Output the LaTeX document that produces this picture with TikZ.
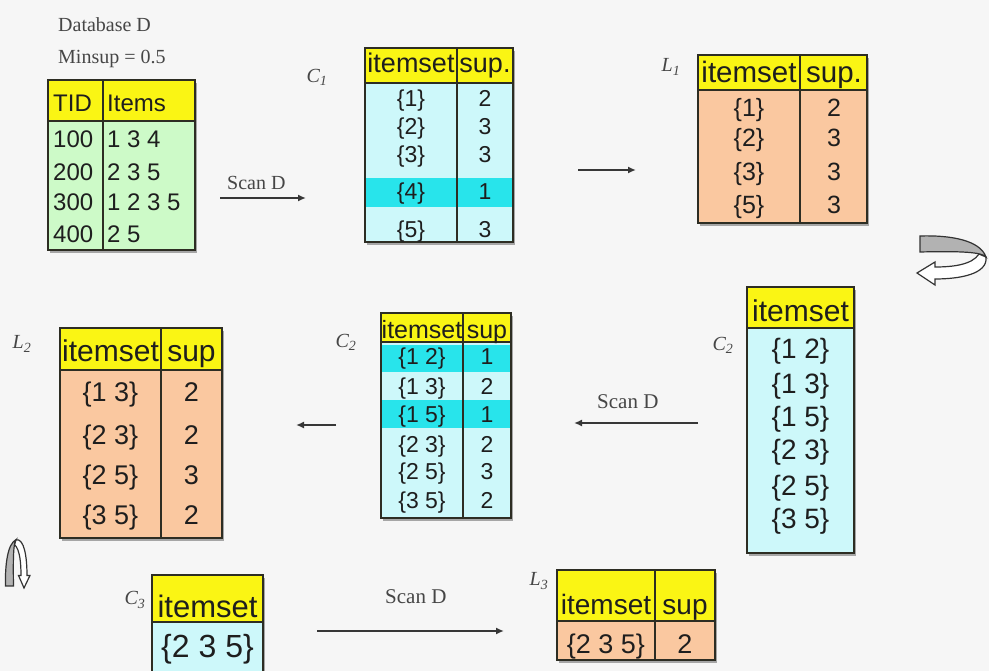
\documentclass[tikz,border=0pt]{standalone}
\usepackage{fontspec}
\setmainfont{Liberation Serif}
\newfontfamily\arial{Liberation Sans}
\usetikzlibrary{arrows.meta}
\newcommand\tsz[1]{\fontsize{#1}{#1}\selectfont}
\definecolor{bg}{RGB}{246,246,246}
\definecolor{hdr}{RGB}{250,245,20}
\definecolor{grn}{RGB}{205,250,200}
\definecolor{cyl}{RGB}{205,248,250}
\definecolor{cyh}{RGB}{40,228,235}
\definecolor{org}{RGB}{250,200,160}
\definecolor{bord}{RGB}{45,45,35}
\definecolor{txt}{RGB}{30,30,30}
\definecolor{arr}{RGB}{55,55,55}
\definecolor{lbl}{RGB}{70,70,70}
\tikzset{
  frame/.style={draw=bord, line width=1.4pt},
  sep/.style={draw=bord, line width=1.4pt},
  shad/.style={fill=black!35},
  cell/.style={inner sep=0pt, anchor=base, text=txt},
  lab/.style={inner sep=0pt, text=lbl, font=\tsz{20}\itshape},
  serif/.style={inner sep=0pt, text=lbl, anchor=base west, font=\tsz{20}},
  conn/.style={draw=arr, line width=1.6pt, -{Latex[length=8pt,width=7pt]}},
  loopar/.pic={
    \filldraw[fill=white, draw=black!80, line width=1.2pt]
      (69,-16) .. controls (71,1) and (43,6) .. (18,6) -- (18,12) -- (0,0)
      -- (18,-11) -- (18,-6) .. controls (35,-6) and (55,-8) .. (62,-19) -- cycle;
    \filldraw[fill=black!30, draw=black!80, line width=1.2pt]
      (3,-37) .. controls (33,-38) and (63,-33) .. (69,-16)
      .. controls (65,-21) and (43,-22) .. (3,-21) -- cycle;
  }
}
\begin{document}
\begin{tikzpicture}[x=1pt,y=-1pt]
\fill[bg] (0,0) rectangle (989,671);
\useasboundingbox (0,0) rectangle (989,671);

% ---------- Database ----------
\node[serif] (dbname) at (58,32) {Database D};
\node[serif] (minsup) at (58,64) {Minsup = 0.5};
\fill[shad] (50,83) rectangle (197,253);
\fill[grn] (48,121) rectangle (195,250);
\fill[hdr] (48,80) rectangle (195,121);
\draw[sep] (48,121) -- (195,121) (103,80) -- (103,250);
\draw[frame] (48,80) rectangle (195,250);
\begin{scope}[every node/.style={cell, anchor=base west, font=\arial\tsz{24}}]
\node (dbh1) at (53,112) {TID};
\node (dbh2) at (107,112) {Items};
\node (dbt1) at (53,148) {100}; \node (dbi1) at (107,148) {1 3 4};
\node (dbt2) at (53,181) {200}; \node (dbi2) at (107,181) {2 3 5};
\node (dbt3) at (53,211) {300}; \node (dbi3) at (107,211) {1 2 3 5};
\node (dbt4) at (53,243) {400}; \node (dbi4) at (107,243) {2 5};
\end{scope}

% ---------- Scan D (1) ----------
\coordinate (a1s) at (220,198);
\coordinate (a1e) at (306,198);
\draw[conn] (a1s) -- (a1e);
\node[serif] (scan1) at (227,190) {Scan D};

% ---------- C1 ----------
\node[lab] (c1lab) at (317,77) {C\textsubscript{1}};
\fill[shad] (367,51) rectangle (515,245);
\fill[cyl] (365,83) rectangle (513,242);
\fill[cyh] (365,178) rectangle (513,207);
\fill[hdr] (365,48) rectangle (513,83);
\draw[sep] (365,83) -- (513,83) (457,48) -- (457,242);
\draw[frame] (365,48) rectangle (513,242);
\begin{scope}[every node/.style={cell, font=\arial\tsz{27}}]
\node (c1h1) at (411,73) {itemset};
\node (c1h2) at (485,73) {sup.};
\end{scope}
\begin{scope}[every node/.style={cell, font=\arial\tsz{23}}]
\node (c1i1) at (411,107) {\{1\}}; \node (c1s1) at (485,107) {2};
\node (c1i2) at (411,135) {\{2\}}; \node (c1s2) at (485,135) {3};
\node (c1i3) at (411,163) {\{3\}}; \node (c1s3) at (485,163) {3};
\node (c1i4) at (411,200) {\{4\}}; \node (c1s4) at (485,200) {1};
\node (c1i5) at (411,238) {\{5\}}; \node (c1s5) at (485,238) {3};
\end{scope}

% ---------- arrow to L1 ----------
\coordinate (a2s) at (578,170);
\coordinate (a2e) at (636,170);
\draw[conn] (a2s) -- (a2e);

% ---------- L1 ----------
\node[lab] (l1lab) at (671,67) {L\textsubscript{1}};
\fill[shad] (700,58) rectangle (869,226);
\fill[org] (698,90) rectangle (867,223);
\fill[hdr] (698,55) rectangle (867,90);
\draw[sep] (698,90) -- (867,90) (800,55) -- (800,223);
\draw[frame] (698,55) rectangle (867,223);
\begin{scope}[every node/.style={cell, font=\arial\tsz{29.5}}]
\node (l1h1) at (749,83) {itemset};
\node (l1h2) at (834,83) {sup.};
\end{scope}
\begin{scope}[every node/.style={cell, font=\arial\tsz{25}}]
\node (l1i1) at (749,117) {\{1\}}; \node (l1s1) at (834,117) {2};
\node (l1i2) at (749,147) {\{2\}}; \node (l1s2) at (834,147) {3};
\node (l1i3) at (749,181) {\{3\}}; \node (l1s3) at (834,181) {3};
\node (l1i4) at (749,214) {\{5\}}; \node (l1s4) at (834,214) {3};
\end{scope}

% ---------- loop arrows ----------
\pic (loop1) at (917,273) {loopar};
\pic[rotate=90, xscale=0.7, yscale=0.5] (loop2) at (24,588) {loopar};

% ---------- C2 (candidates) ----------
\node[lab] (c2blab) at (723,345) {C\textsubscript{2}};
\fill[shad] (749,290) rectangle (856,556);
\fill[cyl] (747,328) rectangle (854,553);
\fill[hdr] (747,287) rectangle (854,328);
\draw[sep] (747,328) -- (854,328);
\draw[frame] (747,287) rectangle (854,553);
\node[cell, font=\arial\tsz{30}] (c2bh) at (800.5,322) {itemset};
\begin{scope}[every node/.style={cell, font=\arial\tsz{28}}]
\node (c2b1) at (800.5,359) {\{1 2\}};
\node (c2b2) at (800.5,393) {\{1 3\}};
\node (c2b3) at (800.5,426) {\{1 5\}};
\node (c2b4) at (800.5,459) {\{2 3\}};
\node (c2b5) at (800.5,495) {\{2 5\}};
\node (c2b6) at (800.5,528) {\{3 5\}};
\end{scope}

% ---------- Scan D (2) ----------
\coordinate (a3s) at (698,423);
\coordinate (a3e) at (574,423);
\draw[conn] (a3s) -- (a3e);
\node[serif, font=\tsz{21}] (scan2) at (597,408) {Scan D};

% ---------- C2 (counted) ----------
\node[lab] (c2alab) at (346,342) {C\textsubscript{2}};
\fill[shad] (383,316) rectangle (513,521);
\fill[cyl] (381,342) rectangle (511,518);
\fill[cyh] (381,345) rectangle (511,372);
\fill[cyh] (381,400) rectangle (511,428);
\fill[hdr] (381,313) rectangle (511,342);
\draw[sep] (381,342) -- (511,342) (463,313) -- (463,518);
\draw[frame] (381,313) rectangle (511,518);
\begin{scope}[every node/.style={cell, font=\arial\tsz{25}}]
\node (c2ah1) at (422,338) {itemset};
\node (c2ah2) at (487,338) {sup};
\end{scope}
\begin{scope}[every node/.style={cell, font=\arial\tsz{23}}]
\node (c2ai1) at (422,365) {\{1 2\}}; \node (c2as1) at (487,365) {1};
\node (c2ai2) at (422,394) {\{1 3\}}; \node (c2as2) at (487,394) {2};
\node (c2ai3) at (422,422) {\{1 5\}}; \node (c2as3) at (487,422) {1};
\node (c2ai4) at (422,452) {\{2 3\}}; \node (c2as4) at (487,452) {2};
\node (c2ai5) at (422,479) {\{2 5\}}; \node (c2as5) at (487,479) {3};
\node (c2ai6) at (422,508) {\{3 5\}}; \node (c2as6) at (487,508) {2};
\end{scope}

% ---------- arrow to L2 ----------
\coordinate (a4s) at (336,425);
\coordinate (a4e) at (296,425);
\draw[conn] (a4s) -- (a4e);

% ---------- L2 ----------
\node[lab] (l2lab) at (22,344) {L\textsubscript{2}};
\fill[shad] (62,331) rectangle (224,541);
\fill[org] (60,370) rectangle (222,538);
\fill[hdr] (60,328) rectangle (222,370);
\draw[sep] (60,370) -- (222,370) (161,328) -- (161,538);
\draw[frame] (60,328) rectangle (222,538);
\begin{scope}[every node/.style={cell, font=\arial\tsz{30}}]
\node (l2h1) at (110.5,362) {itemset};
\node (l2h2) at (191.5,362) {sup};
\end{scope}
\begin{scope}[every node/.style={cell, font=\arial\tsz{27}}]
\node (l2i1) at (110.5,401) {\{1 3\}}; \node (l2s1) at (191.5,401) {2};
\node (l2i2) at (110.5,444) {\{2 3\}}; \node (l2s2) at (191.5,444) {2};
\node (l2i3) at (110.5,484) {\{2 5\}}; \node (l2s3) at (191.5,484) {3};
\node (l2i4) at (110.5,524) {\{3 5\}}; \node (l2s4) at (191.5,524) {2};
\end{scope}

% ---------- C3 ----------
\node[lab] (c3lab) at (135,600) {C\textsubscript{3}};
\fill[shad] (154,578) rectangle (265,680);
\fill[cyl] (152,622) rectangle (263,680);
\fill[hdr] (152,575) rectangle (263,622);
\draw[sep] (152,622) -- (263,622);
\draw[frame] (152,575) rectangle (263,680);
\node[cell, font=\arial\tsz{31}] (c3h) at (207.5,617) {itemset};
\node[cell, font=\arial\tsz{32}] (c3i1) at (207.5,657) {\{2 3 5\}};

% ---------- Scan D (3) ----------
\coordinate (a5s) at (317,631);
\coordinate (a5e) at (504,631);
\draw[conn] (a5s) -- (a5e);
\node[serif, font=\tsz{21}] (scan3) at (385,603) {Scan D};

% ---------- L3 ----------
\node[lab] (l3lab) at (539,581) {L\textsubscript{3}};
\fill[shad] (559,573) rectangle (717,663);
\fill[org] (557,621) rectangle (715,660);
\fill[hdr] (557,570) rectangle (715,621);
\draw[sep] (557,621) -- (715,621) (655,570) -- (655,660);
\draw[frame] (557,570) rectangle (715,660);
\begin{scope}[every node/.style={cell, font=\arial\tsz{28}}]
\node (l3h1) at (606,614) {itemset};
\node (l3h2) at (685,614) {sup};
\end{scope}
\begin{scope}[every node/.style={cell, font=\arial\tsz{27}}]
\node (l3i1) at (606,653) {\{2 3 5\}};
\node (l3s1) at (685,653) {2};
\end{scope}
\end{tikzpicture}
\end{document}
